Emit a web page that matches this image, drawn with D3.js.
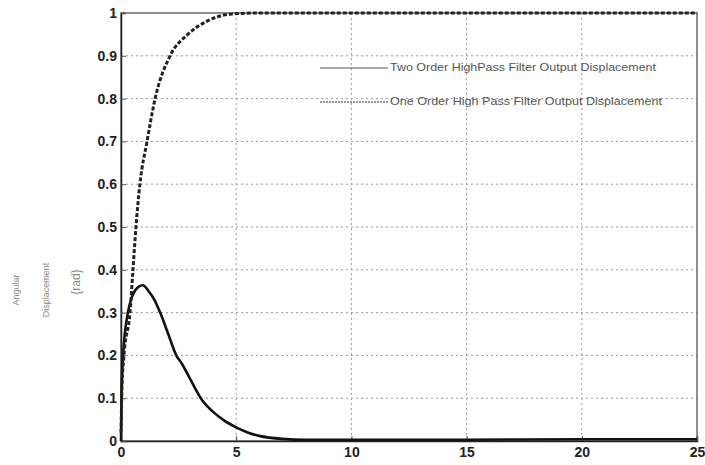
<!DOCTYPE html>
<html><head><meta charset="utf-8">
<script src="https://cdn.jsdelivr.net/npm/d3@7"></script>
<style>body{margin:0;background:#fff}svg{display:block}</style>
</head><body>
<svg id="c" width="705" height="465"></svg>
<script>
const xTicks = [0,5,10,15,20,25];
const yTicks = [0,0.1,0.2,0.3,0.4,0.5,0.6,0.7,0.8,0.9,1];
const yTickLabels = ["0","0.1","0.2","0.3","0.4","0.5","0.6","0.7","0.8","0.9","1"];
const seriesNames = ["Two Order HighPass Filter Output Displacement","One Order High Pass Filter Output Displacement"];
const oneT = [0,0.04,0.13,0.39,0.52,0.65,0.82,1.13,1.48,2.13,2.9,3.7,4.7,6,8,12,16,20,25];
const oneY = [0.02,0.12,0.2,0.3,0.4,0.5,0.6,0.7,0.8,0.9,0.95,0.98,0.997,1,1,1,1,1,1];
const twoT = [0,0.03,0.09,0.3,0.5,0.75,0.95,1.2,1.45,1.7,2.05,2.4,2.65,3.0,3.5,4,4.5,5,5.5,6,7,8,10,15,20,25];
const twoY = [0.0,0.12,0.2,0.3,0.34,0.36,0.364,0.35,0.33,0.3,0.25,0.2,0.18,0.145,0.097,0.068,0.047,0.032,0.02,0.012,0.005,0.003,0.003,0.003,0.004,0.004];

const svg = d3.select("#c");
const L=121,R=697,T=13,B=441;
const x = d3.scaleLinear().domain([0,25]).range([L,R]);
const y = d3.scaleLinear().domain([0,1]).range([B,T]);

// grid
const g = svg.append("g");
g.selectAll(".gx").data(xTicks.slice(1,-1)).enter().append("line")
 .attr("x1",d=>x(d)).attr("x2",d=>x(d)).attr("y1",T).attr("y2",B)
 .attr("stroke","#999").attr("stroke-width",1).attr("stroke-dasharray","2,3");
g.selectAll(".gy").data(yTicks.slice(1,-1)).enter().append("line")
 .attr("y1",d=>y(d)).attr("y2",d=>y(d)).attr("x1",L).attr("x2",R)
 .attr("stroke","#999").attr("stroke-width",1).attr("stroke-dasharray","2,3");

// frame
svg.append("rect").attr("x",L).attr("y",T).attr("width",R-L).attr("height",B-T)
 .attr("fill","none").attr("stroke","#555").attr("stroke-width",1.3);

// axes
const xa = svg.append("g").attr("transform",`translate(0,${B})`)
 .call(d3.axisBottom(x).tickValues(xTicks).tickSize(-5).tickPadding(6).tickFormat(d3.format("d")));
const ya = svg.append("g").attr("transform",`translate(${L},0)`)
 .call(d3.axisLeft(y).tickValues(yTicks).tickSize(-5).tickPadding(4).tickFormat((d,i)=>yTickLabels[i]));
[xa,ya].forEach(a=>{
  a.select(".domain").attr("stroke","#222").attr("stroke-width",1.5);
  a.selectAll(".tick line").attr("stroke","#555");
  a.selectAll("text").attr("font-family","Liberation Sans, Arial, sans-serif")
   .attr("font-size",14).attr("font-weight","bold").attr("fill","#222");
});

// lines
const line = d3.line().x(d=>x(d[0])).y(d=>y(d[1])).curve(d3.curveMonotoneX);
svg.append("path").datum(twoT.map((t,i)=>[t,twoY[i]])).attr("d",line)
 .attr("fill","none").attr("stroke","#111").attr("stroke-width",2.6);
svg.append("path").datum(oneT.map((t,i)=>[t,oneY[i]])).attr("d",line)
 .attr("fill","none").attr("stroke","#222").attr("stroke-width",3).attr("stroke-dasharray","4,2");

// legend
const lg = svg.append("g");
lg.append("line").attr("x1",320).attr("x2",388).attr("y1",68).attr("y2",68)
 .attr("stroke","#555").attr("stroke-width",1.2);
lg.append("line").attr("x1",320).attr("x2",388).attr("y1",102).attr("y2",102)
 .attr("stroke","#777").attr("stroke-width",1.5).attr("stroke-dasharray","2,1");
lg.selectAll("text").data(seriesNames).enter().append("text")
 .attr("x",390).attr("y",(d,i)=>71+i*34).text(d=>d)
 .attr("font-family","Liberation Sans Narrow, Arial Narrow, Liberation Sans, sans-serif")
 .attr("font-size",10.5).attr("fill","#555")
 .attr("textLength",(d,i)=>i?272:266).attr("lengthAdjust","spacingAndGlyphs");

// y label
const yl = [["Angular",19,290],["Displacement",49,290],["{rad}",80,282]];
svg.selectAll(".yl").data(yl).enter().append("text")
 .attr("transform",d=>`translate(${d[1]},${d[2]}) rotate(-90)`)
 .attr("text-anchor","middle").text(d=>d[0])
 .attr("font-family","Liberation Sans, Arial, sans-serif")
 .attr("font-size",(d,i)=>i==2?12:9).attr("fill","#888");
</script>
</body></html>
